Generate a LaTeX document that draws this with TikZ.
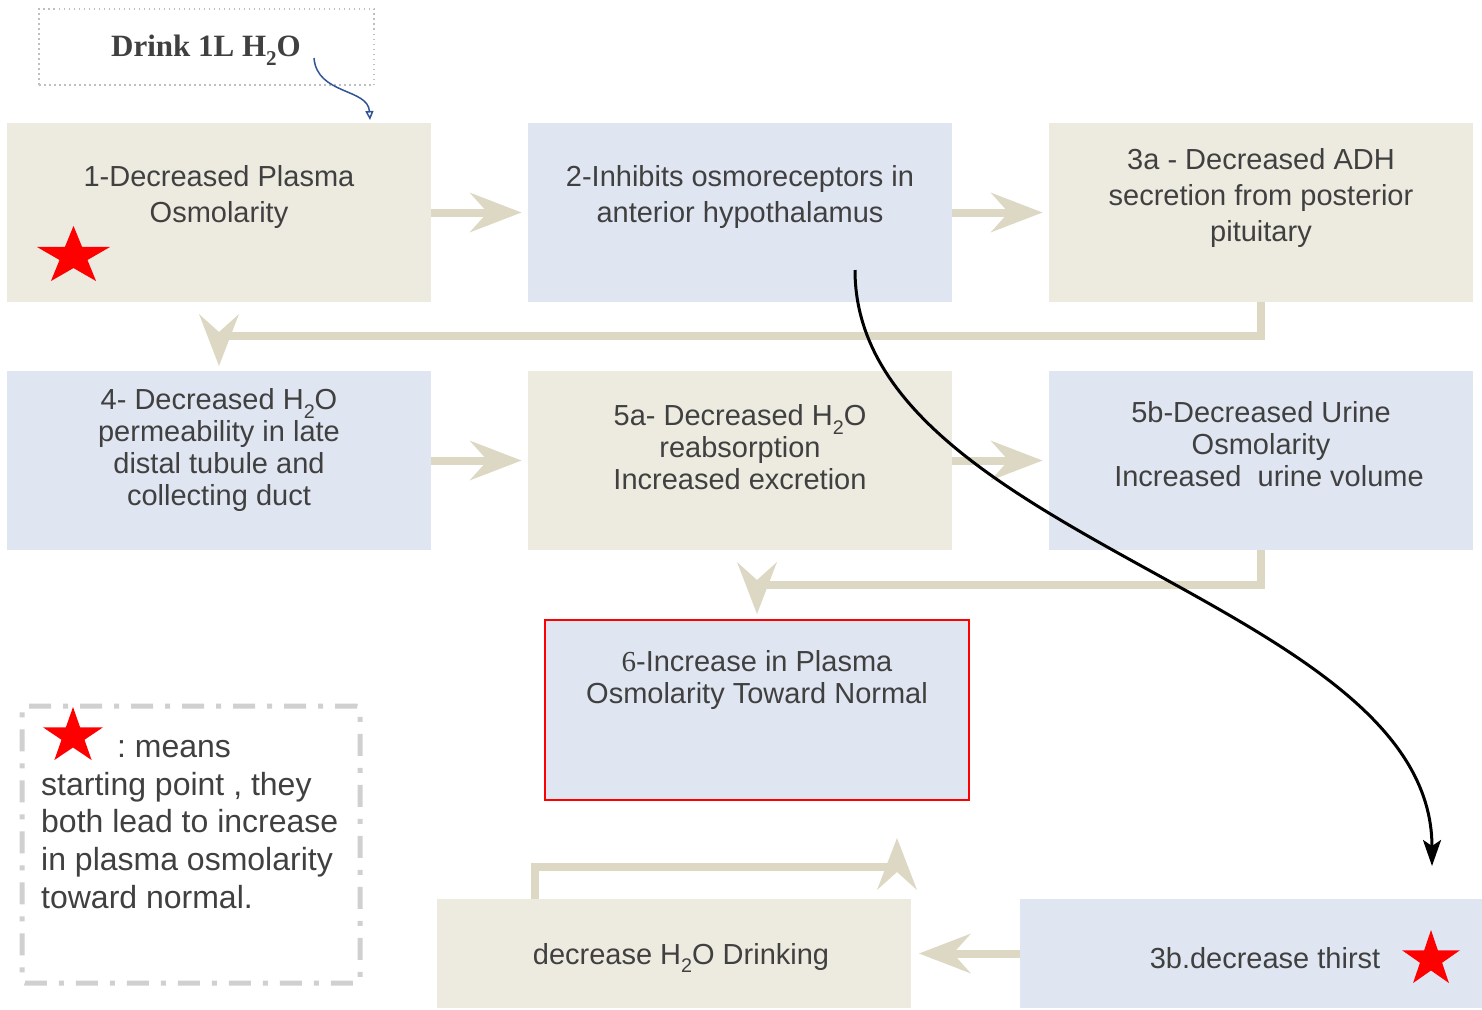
\documentclass[tikz,border=0pt]{standalone}
\usepackage{fontspec}
\usepackage{graphicx}
\setmainfont{Liberation Sans}
\newfontfamily\serifface{Liberation Serif}
\usetikzlibrary{arrows.meta,shapes.geometric}
\definecolor{beige}{HTML}{EDEBE0}
\definecolor{bluebox}{HTML}{DFE6F1}
\definecolor{flowc}{HTML}{DDD8C4}
\definecolor{tgray}{HTML}{404040}
\definecolor{legc}{HTML}{D0D0D0}
\definecolor{dotc}{HTML}{BFBFBF}
\definecolor{bluec}{HTML}{2F5597}
\newcommand\lowsub[1]{\raisebox{-0.3em}{\scalebox{0.68}{#1}}}
\frenchspacing
\begin{document}
\begin{tikzpicture}[x=1pt,y=-1pt,
  box/.style={draw=none, minimum width=424pt, minimum height=179pt, inner sep=0pt, outer sep=0pt},
  beigebox/.style={box, fill=beige},
  bluebx/.style={box, fill=bluebox},
  txt/.style={text=tgray, font=\fontsize{29}{36}\selectfont, align=center, inner sep=0pt},
  txtb/.style={txt, font=\fontsize{29}{32}\selectfont},
  legtxt/.style={text=tgray, font=\fontsize{32}{38}\selectfont, inner sep=0pt, anchor=base west},
  flow/.style={draw=flowc, line width=8pt, -{Stealth[length=52pt,width=40pt,inset=18pt,line width=0pt]}},
  redstar/.style={star, star points=5, star point ratio=2.618, fill=red, draw=none, inner sep=0pt, minimum size=#1, transform shape},
  curvearr/.style={draw=black, line width=3pt, -{Stealth[length=26pt,width=18pt,inset=6pt]}},
  bluearr/.style={draw=bluec, line width=1.5pt, -{Triangle[open,length=9pt,width=8pt]}}
]
\path[use as bounding box] (0,0) rectangle (1482,1009);

% boxes
\node[beigebox] (b1) at (219,212.5) {};
\node[bluebx] (b2) at (739.5,212.5) {};
\node[beigebox] (b3a) at (1260.5,212.5) {};
\node[bluebx] (b4) at (219,460.5) {};
\node[beigebox] (b5a) at (739.5,460.5) {};
\node[bluebx] (b5b) at (1260.5,460.5) {};
\node[bluebx, draw=red, line width=2pt, minimum height=180pt] (b6) at (757,710) {};
\node[beigebox, minimum width=474pt, minimum height=109pt] (bdr) at (674,953.5) {};
\node[bluebx, minimum width=462pt, minimum height=109pt] (b3b) at (1251,953.5) {};
\node[draw=dotc, dash pattern=on 1.5pt off 3.5pt, line width=1.5pt, minimum width=335pt, minimum height=76pt, inner sep=0pt] (topbox) at (206.5,47) {};
\node[draw=legc, line width=5pt, dash pattern=on 22pt off 12pt on 5pt off 12pt, rounded corners=3pt, minimum width=338pt, minimum height=277pt, inner sep=0pt] (legend) at (191,844.5) {};

% flow arrows
\draw[flow] (b1.east) -- ([xshift=-6pt]b2.west);
\draw[flow] (b2.east) -- ([xshift=-6pt]b3a.west);
\draw[flow] (b3a.south) |- ([yshift=35pt]b4.north) -- ([yshift=5pt]b4.north);
\draw[flow] (b4.east) -- ([xshift=-6pt]b5a.west);
\draw[flow] (b5a.east) -- ([xshift=-6pt]b5b.west);
\draw[flow] (b5b.south) |- ([yshift=35pt]b6.north) -- ([yshift=6pt]b6.north);
\draw[flow] (b3b.west) -- ([xshift=8pt]bdr.east);
\draw[flow] ([xshift=-139pt]bdr.north) |- ([xshift=140pt,yshift=-67pt]b6.south) -- ([xshift=140pt,yshift=-38pt]b6.south);

% texts
\node[txt] (t1) at (219,197) {1-Decreased Plasma\\Osmolarity};
\node[txt] (t2) at (740,197) {2-Inhibits osmoreceptors in\\anterior hypothalamus};
\node[txt] (t3a) at (1261,198) {3a - Decreased ADH\\secretion from posterior\\pituitary};
\node[txtb] (t4) at (219,450) {4- Decreased H\lowsub{2}O\\permeability in late\\distal tubule and\\collecting duct};
\node[txtb] (t5a) at (740,447) {5a- Decreased H\lowsub{2}O\\reabsorption\\Increased excretion};
\node[txtb] (t5b) at (1261,444) {5b-Decreased Urine\\Osmolarity\\\hspace*{16pt}Increased\ \ urine volume};
\node[txtb] (t6) at (757,680) {{\serifface 6}-Increase in Plasma\\Osmolarity Toward Normal};
\node[txt] (tdr) at (681,958) {decrease H\lowsub{2}O Drinking};
\node[txt] (t3b) at (1265,958) {3b.decrease thirst};
\node[text=tgray, inner sep=0pt, font=\serifface\bfseries\fontsize{31}{36}\selectfont] (tdrink) at (206,50) {Drink 1L H\lowsub{2}O};

% legend text
\node[legtxt] (leg1) at (117,757) {: means};
\node[legtxt] (leg2) at (41,795) {starting point , they};
\node[legtxt] (leg3) at (41,832) {both lead to increase};
\node[legtxt] (leg4) at (41,870) {in plasma osmolarity};
\node[legtxt] (leg5) at (41,908) {toward normal.};

% stars
\begin{scope}[shift={(73.5,256.4)}, xscale=1.26]
\node[redstar=61pt] (star1) at (0,0) {};
\end{scope}
\begin{scope}[shift={(73,736.3)}, xscale=1.08]
\node[redstar=58.6pt] (starleg) at (0,0) {};
\end{scope}
\begin{scope}[shift={(1431,959.3)}, xscale=1.04]
\node[redstar=58.6pt] (star3b) at (0,0) {};
\end{scope}

% curves
\coordinate (cstart) at (855,270);
\draw[curvearr] (cstart) .. controls (855,540) and (1432,600) .. ([xshift=181pt,yshift=33pt]b3b.north);
\coordinate (bstart) at (314,58);
\draw[bluearr] (bstart) .. controls (317,95) and (368,88) .. ([xshift=151pt,yshift=3pt]b1.north);
\end{tikzpicture}
\end{document}
